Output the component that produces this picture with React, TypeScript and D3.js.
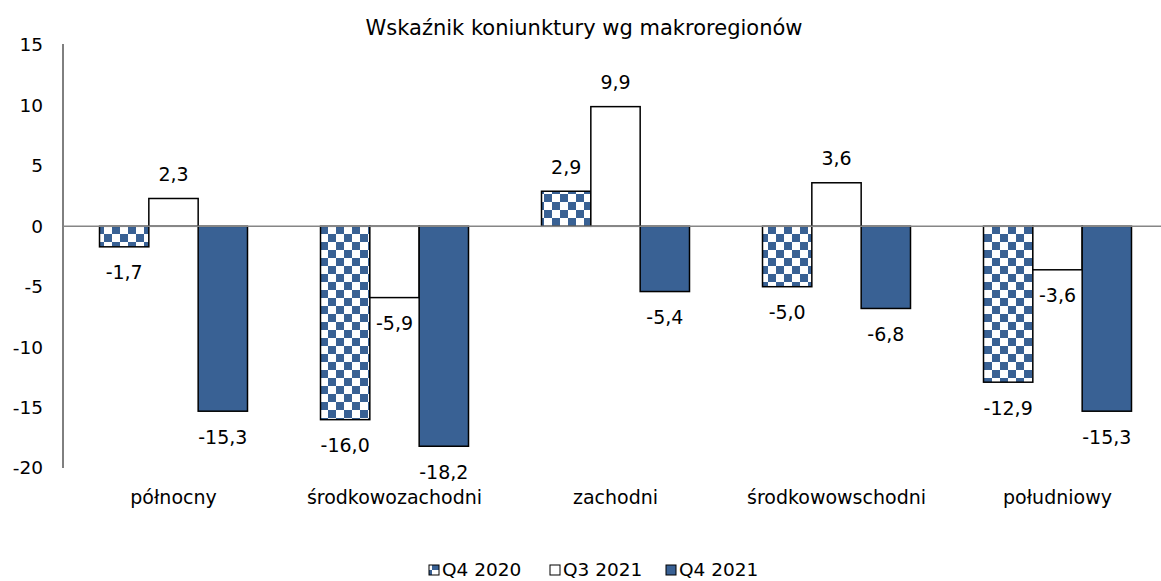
import React from "react";
import * as d3 from "d3";

const categories = ["północny", "środkowozachodni", "zachodni", "środkowowschodni", "południowy"];
const seriesNames = ["Q4 2020", "Q3 2021", "Q4 2021"];
const q4_2020 = [-1.7, -16.0, 2.9, -5.0, -12.9];
const q3_2021 = [2.3, -5.9, 9.9, 3.6, -3.6];
const q4_2021 = [-15.3, -18.2, -5.4, -6.8, -15.3];
const yTicks = [15, 10, 5, 0, -5, -10, -15, -20];
const title = "Wskaźnik koniunktury wg makroregionów";

const W = 1161;
const H = 581;
const BLUE = "#396194";
const FONT = "'DejaVu Sans', sans-serif";
const FS = 18.5;

export default function App() {
  const series = [q4_2020, q3_2021, q4_2021];
  const fills = ["url(#checker)", "#ffffff", BLUE];
  const x0 = d3.scaleBand<string>().domain(categories).range([63, 63 + 221 * 5]).paddingInner(0).paddingOuter(0);
  const groupW = 148;
  const x1 = d3.scaleBand<string>().domain(seriesNames).range([0, groupW]);
  const y = d3.scaleLinear().domain([-20, 15]).range([468, 45]);
  const fmt = (v: number) => v.toFixed(1).replace(".", ",");

  const legendX = [429, 550, 666];

  return (
    <svg width={W} height={H} style={{ position: "absolute", left: 0, top: 0 }} fontFamily={FONT}>
      <defs>
        <pattern id="checker" patternUnits="userSpaceOnUse" width={16} height={16} x={0} y={2}>
          <rect width={16} height={16} fill="#ffffff" />
          <rect x={0} y={0} width={8} height={8} fill={BLUE} />
          <rect x={8} y={8} width={8} height={8} fill={BLUE} />
        </pattern>
      </defs>
      <rect width={W} height={H} fill="#fff" />
      <text x={584} y={28} dy="0.35em" textAnchor="middle" fontSize={21} fill="#000">{title}</text>
      {/* y axis */}
      <line x1={63} x2={63} y1={44} y2={468} stroke="#000" strokeWidth={1} />
      {yTicks.map((t) => (
        <text key={t} x={43} y={y(t)} dy="0.35em" textAnchor="end" fontSize={FS} fill="#000">{t}</text>
      ))}
      {/* bars */}
      {categories.map((c, ci) => {
        const gx = (x0(c) as number) + (x0.bandwidth() - groupW) / 2;
        return (
          <g key={c}>
            {series.map((s, si) => {
              const v = s[ci];
              const bx = gx + (x1(seriesNames[si]) as number);
              const bw = x1.bandwidth();
              const top = Math.min(y(v), y(0));
              const h = Math.abs(y(v) - y(0));
              return (
                <rect key={si} x={bx} y={top} width={bw} height={h} fill={fills[si]} stroke="#000" strokeWidth={1.5} />
              );
            })}
          </g>
        );
      })}
      {/* zero line */}
      <line x1={63} x2={63 + 221 * 5} y1={y(0)} y2={y(0)} stroke="#868686" strokeWidth={1.5} />
      {/* labels */}
      {categories.map((c, ci) => {
        const gx = (x0(c) as number) + (x0.bandwidth() - groupW) / 2;
        return (
          <g key={c + "l"}>
            {series.map((s, si) => {
              const v = s[ci];
              const cx = gx + (x1(seriesNames[si]) as number) + x1.bandwidth() / 2;
              const ly = v >= 0 ? y(v) - 24 : y(v) + 26;
              return (
                <text key={si} x={cx} y={ly} dy="0.35em" textAnchor="middle" fontSize={19} fill="#000">{fmt(v)}</text>
              );
            })}
            <text x={(x0(c) as number) + x0.bandwidth() / 2} y={497} dy="0.35em" textAnchor="middle" fontSize={19} fill="#000">{c}</text>
          </g>
        );
      })}
      {/* legend */}
      {seriesNames.map((n, i) => (
        <g key={n}>
          <rect x={legendX[i]} y={565} width={10} height={10} fill={fills[i]} stroke="#000" strokeWidth={1} />
          <text x={legendX[i] + 13} y={570} dy="0.35em" fontSize={FS} fill="#000">{n}</text>
        </g>
      ))}
    </svg>
  );
}
